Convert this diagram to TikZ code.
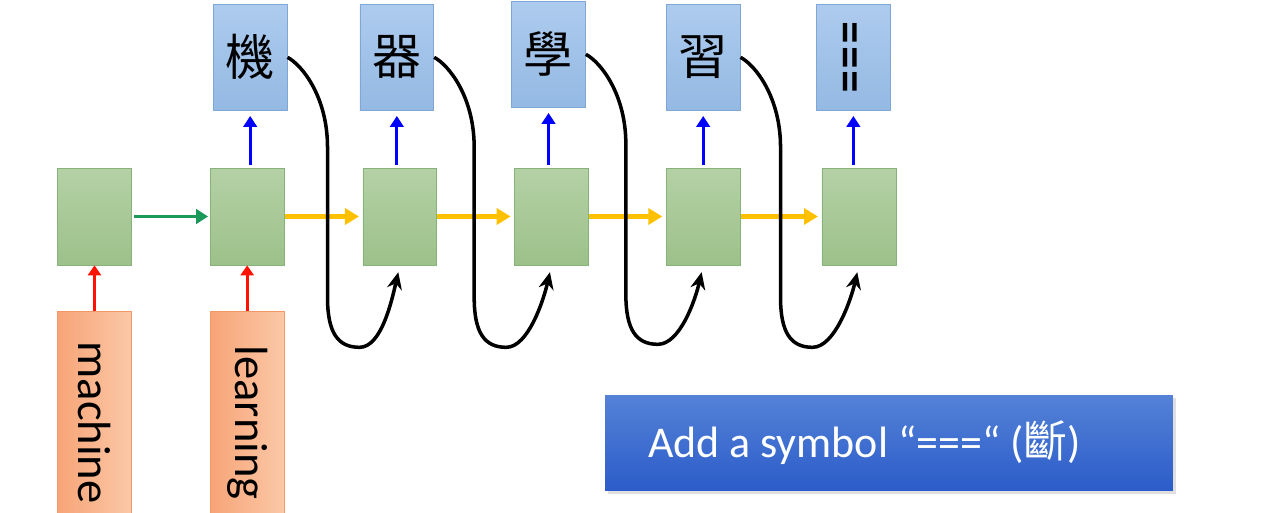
\documentclass[tikz,border=0pt]{standalone}
\usepackage{fontspec}
\setmainfont{Carlito}
\newfontfamily\cjkfont{Noto Sans CJK TC}
\usepackage{tikz}
\usetikzlibrary{arrows.meta,positioning,shadows}
\definecolor{celltop}{HTML}{B4D1A5}
\definecolor{cellbot}{HTML}{9DC18A}
\definecolor{cellline}{HTML}{88B37A}
\definecolor{outtop}{HTML}{ADCBEE}
\definecolor{outbot}{HTML}{94B9E3}
\definecolor{outline}{HTML}{7FA7D6}
\definecolor{inleft}{HTML}{F7A477}
\definecolor{inright}{HTML}{FBC8A7}
\definecolor{inline}{HTML}{F29868}
\definecolor{notetop}{HTML}{5482D7}
\definecolor{notebot}{HTML}{2B5CC9}
\definecolor{upblue}{HTML}{0000FF}
\definecolor{inred}{HTML}{FF1100}
\definecolor{firstgreen}{HTML}{1A9958}
\definecolor{nextorange}{HTML}{FFC000}
\tikzset{
  cell/.style={draw=cellline,top color=celltop,bottom color=cellbot,minimum width=1.48cm,
    minimum height=1.94cm,inner sep=0pt},
  outbox/.style={draw=outline,top color=outtop,bottom color=outbot,minimum width=1.48cm,
    minimum height=2.12cm,inner sep=0pt,font=\cjkfont\fontsize{28}{30}\selectfont},
  inbox/.style={draw=inline,left color=inleft,right color=inright,minimum width=1.48cm,
    minimum height=4.44cm,inner sep=0pt,font=\fontsize{26.5}{30}\selectfont},
  notebox/.style={top color=notetop,bottom color=notebot,minimum width=11.36cm,minimum height=1.92cm,
    inner sep=0pt,text=white,font=\fontsize{25}{30}\selectfont,
    drop shadow={opacity=0.25,shadow xshift=1.5pt,shadow yshift=-1.5pt}},
  upflow/.style={-{Triangle[length=2.2mm,width=2.7mm]},line width=1.7pt,draw=upblue,
    shorten <=1.5pt,shorten >=3pt},
  inflow/.style={-{Triangle[length=2mm,width=2.6mm]},line width=1.6pt,draw=inred},
  firstflow/.style={-{Triangle[length=2.4mm,width=2.9mm]},line width=2.1pt,draw=firstgreen,
    shorten <=1.5pt,shorten >=1pt},
  nextflow/.style={-{Triangle[length=2.8mm,width=3.2mm]},line width=3pt,draw=nextorange,
    shorten >=2pt},
  feed/.style={-{Stealth[length=3.4mm,width=3mm]},line width=2pt,draw=black,shorten >=4pt}
}
\begin{document}
\begin{tikzpicture}[x=0.02cm,y=-0.02cm]
  \useasboundingbox (0,0) rectangle (1275,513);
  % hidden cells
  \node[cell] (h1) at (94.5,216.5) {};
  \node[cell,right=1.56cm of h1] (h2) {};
  \node[cell,right=1.56cm of h2] (h3) {};
  \node[cell,right=1.54cm of h3] (h4) {};
  \node[cell,right=1.54cm of h4] (h5) {};
  \node[cell,right=1.62cm of h5] (h6) {};
  % inputs
  \node[inbox,below=0.92cm of h1] (x1) {\rotatebox{-90}{machine}};
  \node[inbox,below=0.92cm of h2] (x2) {\rotatebox{-90}{learning}};
  % outputs
  \node[outbox,above=1.14cm of h2,xshift=0.06cm] (o2) {機};
  \node[outbox,above=1.14cm of h3,xshift=-0.06cm] (o3) {器};
  \node[outbox,above=1.20cm of h4,xshift=-0.06cm] (o4) {學};
  \node[outbox,above=1.14cm of h5] (o5) {習};
  \node[outbox,above=1.14cm of h6,xshift=-0.11cm] (o6)
    {\rotatebox{90}{\fontsize{20}{24}\selectfont\bfseries =\kern1.8pt=\kern1.8pt=}};
  \node[notebox] (note) at (889,443)
    {\makebox[11.36cm][l]{\hspace{0.86cm}Add a symbol “===“ ({\cjkfont 斷})}};
  % connectors
  \draw[inflow] (x1) -- (h1);
  \draw[inflow] (x2) -- (h2);
  \draw[firstflow] (h1) -- (h2);
  \foreach \i/\j in {2/3,3/4,4/5,5/6}
    \draw[nextflow] (h\i) -- (h\j);
  \foreach \i in {2,...,6}
    \draw[upflow] (h\i.north -| o\i.south) -- (o\i.south);
  \foreach \i/\j in {2/3,3/4,4/5,5/6}
    \draw[feed] (o\i.east) .. controls +(15,8) and +(0,-50) .. ++(40,90) -- ++(0,150)
      .. controls +(0,35) and +(-22,0) .. ++(32,50)
      .. controls +(22,0) and +(-8,35) .. (h\j.south);
\end{tikzpicture}
\end{document}
